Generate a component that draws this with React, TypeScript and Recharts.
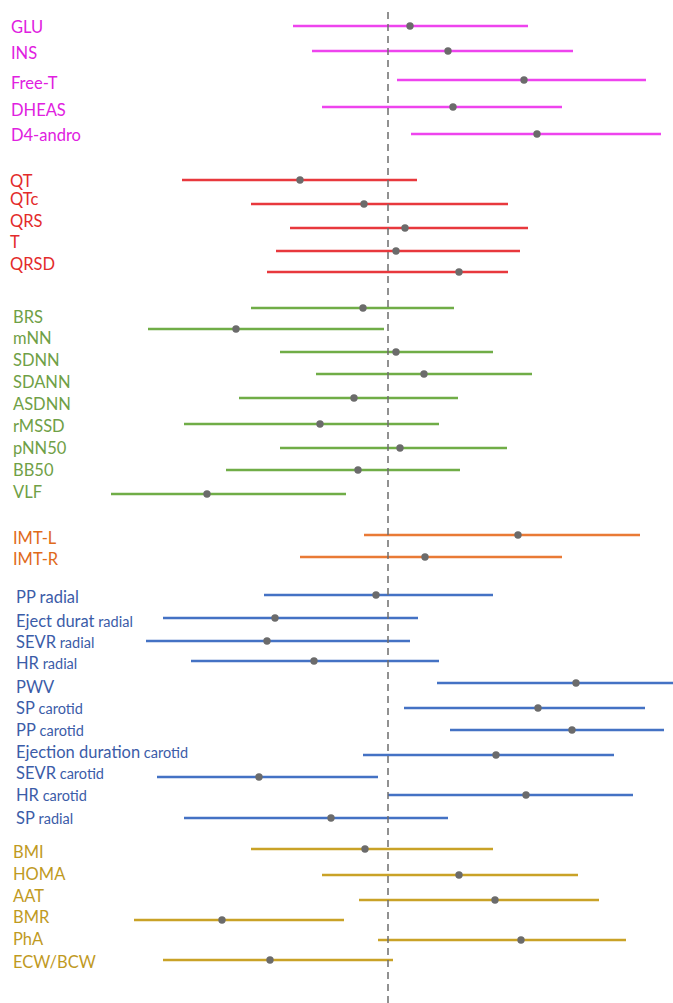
import { ErrorBar, ReferenceLine, Scatter, ScatterChart, XAxis, YAxis } from "recharts";

// effect estimate with lower / upper bound, 0 = no effect (dashed line)
// rows = vertical position of each line, labelRows = vertical position of its label

const hormoneNames = ["GLU", "INS", "Free-T", "DHEAS", "D4-andro"];
const hormoneEst = [0.22, 0.6, 1.36, 0.65, 1.49];
const hormoneLow = [-0.95, -0.76, 0.09, -0.66, 0.23];
const hormoneHigh = [1.4, 1.85, 2.58, 1.74, 2.73];
const hormoneRows = [26, 51, 80, 107, 134];
const hormoneLabelRows = [27, 53, 83, 110, 135];

const ecgNames = ["QT", "QTc", "QRS", "T", "QRSD"];
const ecgEst = [-0.88, -0.24, 0.17, 0.08, 0.71];
const ecgLow = [-2.06, -1.37, -0.98, -1.12, -1.21];
const ecgHigh = [0.29, 1.2, 1.4, 1.32, 1.2];
const ecgRows = [180, 204, 228, 251, 272];
const ecgLabelRows = [181, 199, 221, 242, 264];

const hrvNames = ["BRS", "mNN", "SDNN", "SDANN", "ASDNN", "rMSSD", "pNN50", "BB50", "VLF"];
const hrvEst = [-0.25, -1.52, 0.08, 0.36, -0.34, -0.68, 0.12, -0.3, -1.81];
const hrvLow = [-1.37, -2.4, -1.08, -0.72, -1.49, -2.04, -1.08, -1.62, -2.77];
const hrvHigh = [0.66, -0.04, 1.05, 1.44, 0.7, 0.51, 1.19, 0.72, -0.42];
const hrvRows = [308, 329, 352, 374, 398, 424, 448, 470, 494];
const hrvLabelRows = [317, 338, 360, 382, 404, 426, 448, 470, 492];

const imtNames = ["IMT-L", "IMT-R"];
const imtEst = [1.3, 0.37];
const imtLow = [-0.24, -0.88];
const imtHigh = [2.52, 1.74];
const imtRows = [535, 557];
const imtLabelRows = [538, 559];

const pulseNames = ["PP radial", "Eject durat", "SEVR", "HR", "PWV", "SP", "PP", "Ejection duration", "SEVR", "HR", "SP"];
const pulseSites = ["", "radial", "radial", "radial", "", "carotid", "carotid", "carotid", "carotid", "carotid", "radial"];
const pulseEst = [-0.12, -1.13, -1.21, -0.74, 1.88, 1.5, 1.84, 1.08, -1.29, 1.38, -0.57];
const pulseLow = [-1.24, -2.25, -2.42, -1.97, 0.49, 0.16, 0.62, -0.25, -2.31, 0.0, -2.04];
const pulseHigh = [1.05, 0.3, 0.22, 0.51, 2.85, 2.57, 2.76, 2.26, -0.1, 2.45, 0.6];
const pulseRows = [595, 618, 641, 661, 683, 708, 730, 755, 777, 795, 818];
const pulseLabelRows = [597, 621, 642, 663, 687, 708, 730, 752, 773, 795, 818];

const bodyNames = ["BMI", "HOMA", "AAT", "BMR", "PhA", "ECW/BCW"];
const bodyEst = [-0.23, 0.71, 1.07, -1.66, 1.33, -1.18];
const bodyLow = [-1.37, -0.66, -0.29, -2.54, -0.1, -2.25];
const bodyHigh = [1.05, 1.9, 2.11, -0.44, 2.38, 0.05];
const bodyRows = [849, 875, 900, 920, 940, 960];
const bodyLabelRows = [852, 874, 896, 917, 939, 962];

const groups = [
  { names: hormoneNames, est: hormoneEst, low: hormoneLow, high: hormoneHigh, rows: hormoneRows, labelRows: hormoneLabelRows, line: "#EE44EE", text: "#E020E0", indent: 11 },
  { names: ecgNames, est: ecgEst, low: ecgLow, high: ecgHigh, rows: ecgRows, labelRows: ecgLabelRows, line: "#E8383D", text: "#E32B2B", indent: 10 },
  { names: hrvNames, est: hrvEst, low: hrvLow, high: hrvHigh, rows: hrvRows, labelRows: hrvLabelRows, line: "#70AD47", text: "#6FA046", indent: 13 },
  { names: imtNames, est: imtEst, low: imtLow, high: imtHigh, rows: imtRows, labelRows: imtLabelRows, line: "#E97A36", text: "#E06A1A", indent: 13 },
  { names: pulseNames, sites: pulseSites, est: pulseEst, low: pulseLow, high: pulseHigh, rows: pulseRows, labelRows: pulseLabelRows, line: "#4472C4", text: "#3B5CA8", indent: 16 },
  { names: bodyNames, est: bodyEst, low: bodyLow, high: bodyHigh, rows: bodyRows, labelRows: bodyLabelRows, line: "#C9A227", text: "#BF9A1F", indent: 13 },
];

const tickRows = groups.flatMap((g) => g.labelRows);
const tickLabels = groups.flatMap((g) =>
  g.names.map((name, i) => ({ name, site: g.sites ? g.sites[i] : "", color: g.text, indent: g.indent }))
);

const LabelTick = (props: any) => {
  const { x, y, index } = props;
  const lab = tickLabels[index];
  if (!lab) return null;
  return (
    <text x={x + lab.indent} y={y} dy="0.36em" textAnchor="start" fill={lab.color} fontSize={16.5} fontFamily="Lato">
      {lab.name}
      {lab.site ? <tspan fontSize={14.5}>{" " + lab.site}</tspan> : null}
    </text>
  );
};

const Dot = (props: any) => <circle cx={props.cx} cy={props.cy} r={3.7} fill="#6B6B6B" />;

const App = () => {
  return (
    <div style={{ position: "absolute", left: 0, top: 0, background: "#fff" }}>
      <ScatterChart width={673} height={1003} margin={{ top: 0, right: 0, bottom: 0, left: 0 }}>
        <XAxis type="number" dataKey="x" domain={[-3.88, 2.85]} allowDataOverflow hide />
        <YAxis
          type="number"
          dataKey="y"
          domain={[0, 1003]}
          reversed
          mirror
          ticks={tickRows}
          interval={0}
          tick={<LabelTick />}
          tickSize={0}
          tickMargin={0}
          axisLine={false}
          tickLine={false}
        />
        {groups.map((g, gi) => (
          <Scatter
            key={gi}
            data={g.rows.map((r, i) => ({ x: g.est[i], y: r, ci: [g.est[i] - g.low[i], g.high[i] - g.est[i]] }))}
            shape={<Dot />}
            isAnimationActive={false}
          >
            <ErrorBar dataKey="ci" direction="x" width={0} stroke={g.line} strokeWidth={2.6} isAnimationActive={false} />
          </Scatter>
        ))}
        <ReferenceLine
          segment={[{ x: 0, y: 12 }, { x: 0, y: 1003 }]}
          stroke="#6E6E6E"
          strokeWidth={1.5}
          strokeDasharray="7 5"
        />
      </ScatterChart>
    </div>
  );
};

export default App;
